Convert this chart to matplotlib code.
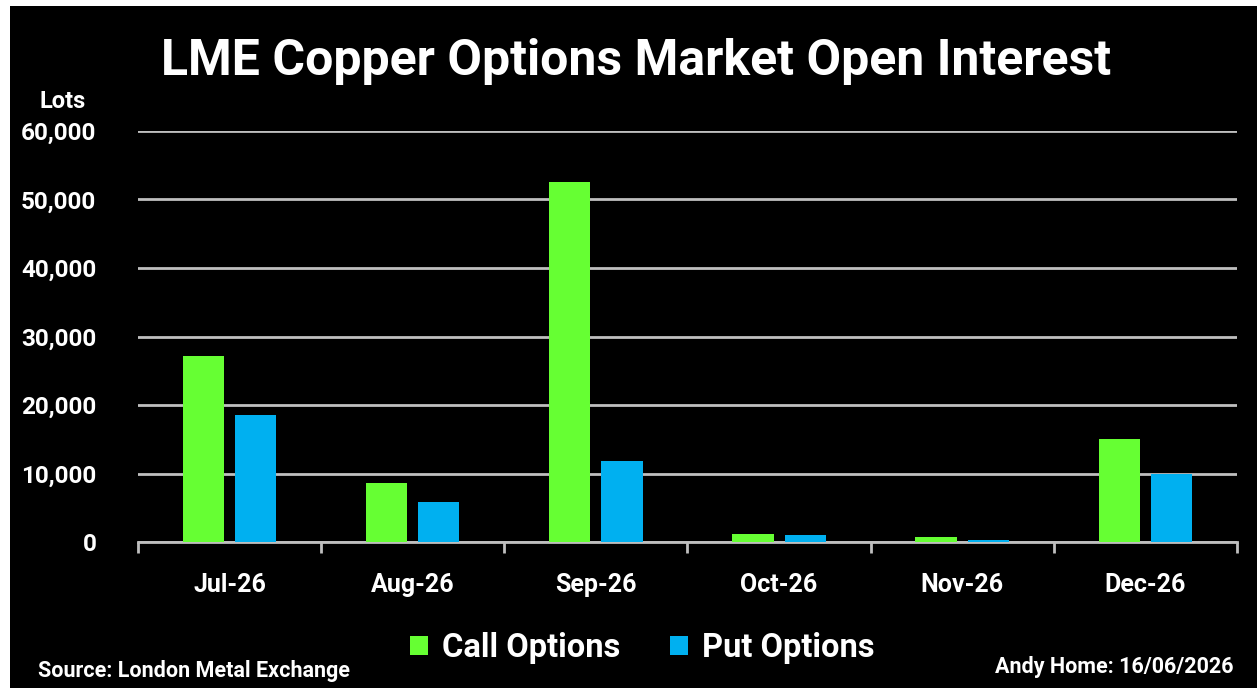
import matplotlib.pyplot as plt
import matplotlib.patches as mpatches
import numpy as np

# Open interest by expiry month, lots
months = ['Jul-26', 'Aug-26', 'Sep-26', 'Oct-26', 'Nov-26', 'Dec-26']
call_options = [27200, 8600, 52600, 1100, 800, 15100]
put_options = [18500, 5900, 11800, 1050, 300, 10000]

green = '#66FF33'
blue = '#00B0F0'
grid_grey = '#BFBFBF'

plt.rcParams['font.family'] = ['Roboto', 'DejaVu Sans']
plt.rcParams['font.weight'] = 'bold'

fig = plt.figure(figsize=(12.57, 6.88), dpi=100, facecolor='white')
# black panel with a thin white margin at top/left like the screenshot
fig.patches.append(mpatches.Rectangle((10 / 1257, 0), 1, 1 - 6 / 688,
                                      transform=fig.transFigure,
                                      facecolor='black', edgecolor='none', zorder=-5))

ax = fig.add_axes([0.1098, 0.2122, 0.8742, 0.5974])
ax.set_facecolor('black')

x = np.arange(len(months))
w = 0.225
ax.bar(x - 0.1425, call_options, w, color=green, zorder=3, label='Call Options')
ax.bar(x + 0.1425, put_options, w, color=blue, zorder=3, label='Put Options')

ax.set_xlim(-0.5, len(months) - 0.5)
ax.set_ylim(0, 60000)
ax.set_yticks(np.arange(0, 60001, 10000))
ax.set_yticklabels(['{:,}'.format(v) for v in range(0, 60001, 10000)])
ax.yaxis.grid(True, color=grid_grey, linewidth=2, zorder=1)
ax.set_axisbelow(True)
ax.tick_params(axis='y', length=0, pad=30, labelsize=17.5, labelcolor='white')

# category labels at centres, tick marks at the boundaries
ax.set_xticks(x)
ax.set_xticklabels(months)
ax.set_xticks(np.arange(-0.5, len(months), 1), minor=True)
ax.tick_params(axis='x', which='major', length=0, pad=22, labelsize=18, labelcolor='white')
ax.tick_params(axis='x', which='minor', length=8, width=2, color=grid_grey)

for s in ['top', 'right', 'left']:
    ax.spines[s].set_visible(False)
ax.spines['bottom'].set_color(grid_grey)
ax.spines['bottom'].set_linewidth(2)

fig.text(0.506, 0.91, 'LME Copper Options Market Open Interest', ha='center', va='center',
         color='white', fontsize=36, fontweight='bold')
fig.text(0.05, 0.853, 'Lots', ha='center', va='center', color='white', fontsize=17, fontweight='bold')

leg = fig.legend(loc='center', bbox_to_anchor=(0.511, 0.058), ncol=2, frameon=False,
                 fontsize=23.5, handlelength=0.55, handleheight=0.55, handletextpad=0.45,
                 columnspacing=1.5)
for t in leg.get_texts():
    t.set_color('white')
    t.set_fontweight('bold')

fig.text(0.03, 0.024, 'Source: London Metal Exchange', ha='left', va='center',
         color='white', fontsize=15.5, fontweight='bold')
fig.text(0.981, 0.03, 'Andy Home: 16/06/2026', ha='right', va='center',
         color='white', fontsize=15.5, fontweight='bold')

fig.savefig('out.png', dpi=100, facecolor=fig.get_facecolor())
